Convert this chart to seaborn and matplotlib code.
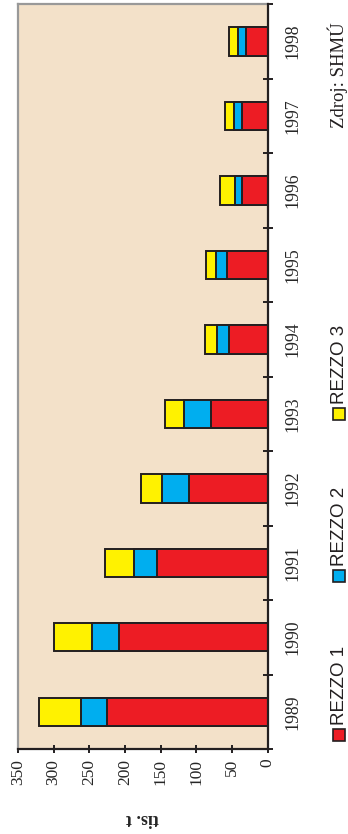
import numpy as np
import pandas as pd
import matplotlib
matplotlib.use("Agg")
import matplotlib.pyplot as plt
from matplotlib.patches import Rectangle
import seaborn as sns

# Emissions by source category (thousand tonnes)
years = ["1989", "1990", "1991", "1992", "1993", "1994", "1995", "1996", "1997", "1998"]
rezzo1 = [225, 208, 155, 111, 80, 54, 57, 36, 36, 30]
rezzo2 = [37, 38, 33, 37, 37, 17, 16, 10, 11, 11]
rezzo3 = [58, 54, 40, 30, 27, 17, 14, 21, 13, 13]
series_names = ["REZZO 1", "REZZO 2", "REZZO 3"]
value_ticks = [0, 50, 100, 150, 200, 250, 300, 350]
y_label = "tis. t"
source_note = "Zdroj: SHMÚ"

colors = ["#ED1C24", "#00AEEF", "#FFF200"]
edge = "#231F20"
serif = ["Liberation Serif", "DejaVu Serif"]
sans = ["Liberation Sans", "DejaVu Sans"]

sns.set_style("white")
plt.rcParams["font.family"] = serif

df = pd.DataFrame({"year": years, "r1": rezzo1, "r2": rezzo2, "r3": rezzo3})
df["c1"] = df["r1"]
df["c2"] = df["r1"] + df["r2"]
df["c3"] = df["r1"] + df["r2"] + df["r3"]

fig = plt.figure(figsize=(3.48, 8.34), dpi=100)
ax = fig.add_axes([18 / 348, 1 - 749 / 834, (267.7 - 18) / 348, (749 - 4.3) / 834])
ax.set_facecolor("#F3E1C9")

order = years[::-1]
# stacked bars drawn as cumulative totals, widest first
for col, c in zip(["c3", "c2", "c1"], colors[::-1]):
    sns.barplot(data=df, x=col, y="year", order=order, orient="h", color=c,
                edgecolor=edge, linewidth=1.4, width=0.38, errorbar=None,
                saturation=1, ax=ax, zorder=3)

ax.set_xlim(350, 0)
ax.set_ylim(len(years) - 0.5, -0.5)

# value axis
ax.set_xticks(value_ticks)
ax.set_xticklabels([str(v) for v in value_ticks], rotation=90, fontsize=12.5,
                   family=serif)
ax.tick_params(axis="x", direction="inout", length=6, width=1.4, color=edge,
               pad=4, bottom=True)
ax.set_xlabel(y_label, rotation=180, fontsize=13, fontweight="bold", labelpad=18)

# category axis on the right
ax.yaxis.set_ticks_position("right")
ax.set_yticks(range(len(years)))
ax.set_yticklabels(order, rotation=90, fontsize=12.8, family=serif, va="center")
ax.set_yticks(np.arange(-0.5, len(years), 1), minor=True)
ax.tick_params(axis="y", which="major", length=0, pad=12)
ax.tick_params(axis="y", which="minor", direction="inout", length=7.5, width=1.4,
               color=edge, right=True, left=False)
ax.set_ylabel("")

for side in ["left", "top"]:
    ax.spines[side].set_color("#999999")
    ax.spines[side].set_linewidth(1.6)
for side in ["right", "bottom"]:
    ax.spines[side].set_color(edge)
    ax.spines[side].set_linewidth(1.6)
    ax.spines[side].set_zorder(5)

# legend drawn vertically along the right margin
legend_y = [735, 576, 414]
sq = 12
for name, c, yc in zip(series_names, colors, legend_y):
    fig.patches.append(Rectangle(((339 - sq / 2) / 348, 1 - (yc + sq / 2) / 834),
                                 sq / 348, sq / 834, transform=fig.transFigure,
                                 facecolor=c, edgecolor=edge, linewidth=1.2))
    fig.text(339.5 / 348, 1 - (yc - sq / 2 - 4) / 834, name, rotation=90,
             ha="center", va="bottom", fontsize=13.5, family=sans, color="#231F20")

fig.text(338 / 348, 1 - 75 / 834, source_note, rotation=90, ha="center",
         va="center", fontsize=13.5, family=serif, color="#231F20")

fig.savefig("out.png", dpi=100)
